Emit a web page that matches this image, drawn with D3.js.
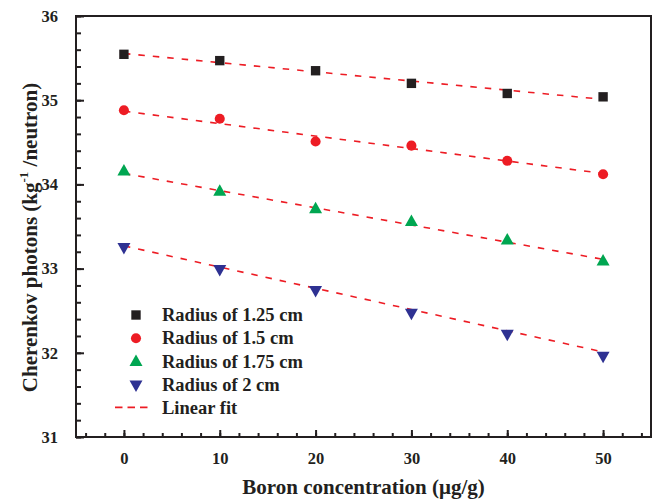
<!DOCTYPE html>
<html>
<head>
<meta charset="utf-8">
<script src="https://cdn.jsdelivr.net/npm/d3@7"></script>
<style>
  body { margin: 0; background: #fff; }
  svg text { font-family: "Liberation Serif", "Times New Roman", serif; font-weight: bold; fill: #231f20; }
</style>
</head>
<body>
<svg width="659" height="500"></svg>
<script>
// boron concentration (ug/g)
var boron = [0, 10, 20, 30, 40, 50];

// Cherenkov photons per series
var r125 = [35.545, 35.47, 35.35, 35.20, 35.08, 35.04];
var r150 = [34.88, 34.78, 34.51, 34.46, 34.28, 34.12];
var r175 = [34.16, 33.92, 33.71, 33.56, 33.34, 33.09];
var r200 = [33.25, 32.99, 32.74, 32.47, 32.22, 31.96];

// linear fit end points (at 0 and at 50)
var fitStart = [35.555, 34.87, 34.13, 33.27];
var fitEnd = [35.01, 34.13, 33.11, 32.01];

var seriesNames = ['Radius of 1.25 cm', 'Radius of 1.5 cm', 'Radius of 1.75 cm', 'Radius of 2 cm'];
var xTicks = [0, 10, 20, 30, 40, 50];
var yTicks = [31, 32, 33, 34, 35, 36];

var colors = ['#231f20', '#ed1c24', '#00a651', '#2e3192'];
var shapes = ['square', 'circle', 'up', 'down'];
var fitColor = '#ed1c24';

var svg = d3.select('svg'),
	margin = {top: 16, right: 8, bottom: 63, left: 76},
	width = 659 - margin.left - margin.right,
	height = 500 - margin.top - margin.bottom,
	g = svg.append('g').attr('transform', 'translate(' + margin.left + ',' + margin.top + ')');

var x = d3.scaleLinear().domain([-5, 55]).range([0, width]);
var y = d3.scaleLinear().domain([31, 36]).range([height, 0]);

// minor ticks
g.append('g')
	.attr('transform', 'translate(0,' + height + ')')
	.call(d3.axisBottom(x).tickValues(d3.range(-4, 55, 2)).tickSize(-4).tickFormat(''))
	.call(function(a) { a.select('.domain').remove(); });
g.append('g')
	.call(d3.axisLeft(y).tickValues(d3.range(31, 36.01, 0.2)).tickSize(-5).tickFormat(''))
	.call(function(a) { a.select('.domain').remove(); });

// major ticks
var xa = g.append('g')
	.attr('transform', 'translate(0,' + height + ')')
	.call(d3.axisBottom(x).tickValues(xTicks).tickSize(-7).tickPadding(15).tickFormat(d3.format('d')));
xa.select('.domain').remove();
var ya = g.append('g')
	.call(d3.axisLeft(y).tickValues(yTicks).tickSize(-8).tickPadding(18).tickFormat(d3.format('d')));
ya.select('.domain').remove();

svg.selectAll('.tick line').attr('stroke', '#231f20').attr('stroke-width', 2);
svg.selectAll('.tick text').attr('font-size', 16.5).attr('fill', '#231f20')
	.attr('font-family', '"Liberation Serif", serif').attr('font-weight', 'bold');

// frame
g.append('rect')
	.attr('width', width).attr('height', height)
	.attr('fill', 'none').attr('stroke', '#231f20').attr('stroke-width', 2);

// fit lines
var allSeries = [r125, r150, r175, r200];
allSeries.forEach(function(s, i) {
	g.append('line')
		.attr('x1', x(boron[0])).attr('y1', y(fitStart[i]))
		.attr('x2', x(boron[boron.length - 1])).attr('y2', y(fitEnd[i]))
		.attr('stroke', fitColor).attr('stroke-width', 1.6)
		.attr('stroke-dasharray', '6.5,8');
});

function symbolPath(shape) {
	if (shape === 'square') return d3.symbol(d3.symbolSquare, 88)();
	if (shape === 'circle') return d3.symbol(d3.symbolCircle, 80)();
	if (shape === 'up') return 'M0,-7L6.5,4.5L-6.5,4.5Z';
	return 'M0,7L6.5,-4.5L-6.5,-4.5Z';
}

allSeries.forEach(function(s, i) {
	g.append('g').selectAll('path')
		.data(s)
		.enter().append('path')
		.attr('transform', function(d, j) { return 'translate(' + x(boron[j]) + ',' + y(d) + ')'; })
		.attr('d', symbolPath(shapes[i]))
		.attr('fill', colors[i]);
});

// legend
var lg = svg.append('g').attr('transform', 'translate(136,0)');
var rowY = [315, 338.3, 361.6, 385, 408.3];
seriesNames.forEach(function(name, i) {
	lg.append('path')
		.attr('transform', 'translate(0,' + rowY[i] + ')')
		.attr('d', symbolPath(shapes[i]))
		.attr('fill', colors[i]);
	lg.append('text')
		.attr('x', 26).attr('y', rowY[i] + 6)
		.attr('font-size', 18.5)
		.text(name);
});
lg.append('line')
	.attr('x1', -21).attr('x2', 16)
	.attr('y1', rowY[4] - 1).attr('y2', rowY[4] - 1)
	.attr('stroke', fitColor).attr('stroke-width', 1.8)
	.attr('stroke-dasharray', '7.5,5');
lg.append('text')
	.attr('x', 26).attr('y', rowY[4] + 6)
	.attr('font-size', 18.5)
	.text('Linear fit');

// axis titles
svg.append('text')
	.attr('x', margin.left + width / 2).attr('y', 494)
	.attr('text-anchor', 'middle')
	.attr('font-size', 21)
	.text('Boron concentration (\u03bcg/g)');

var yl = svg.append('text')
	.attr('transform', 'translate(37,' + (margin.top + height / 2 + 11) + ') rotate(-90)')
	.attr('text-anchor', 'middle')
	.attr('font-size', 21);
yl.append('tspan').text('Cherenkov photons (kg');
yl.append('tspan').attr('font-size', 13).attr('dy', -9).text('-1');
yl.append('tspan').attr('dy', 9).text(' /neutron)');
</script>
</body>
</html>
